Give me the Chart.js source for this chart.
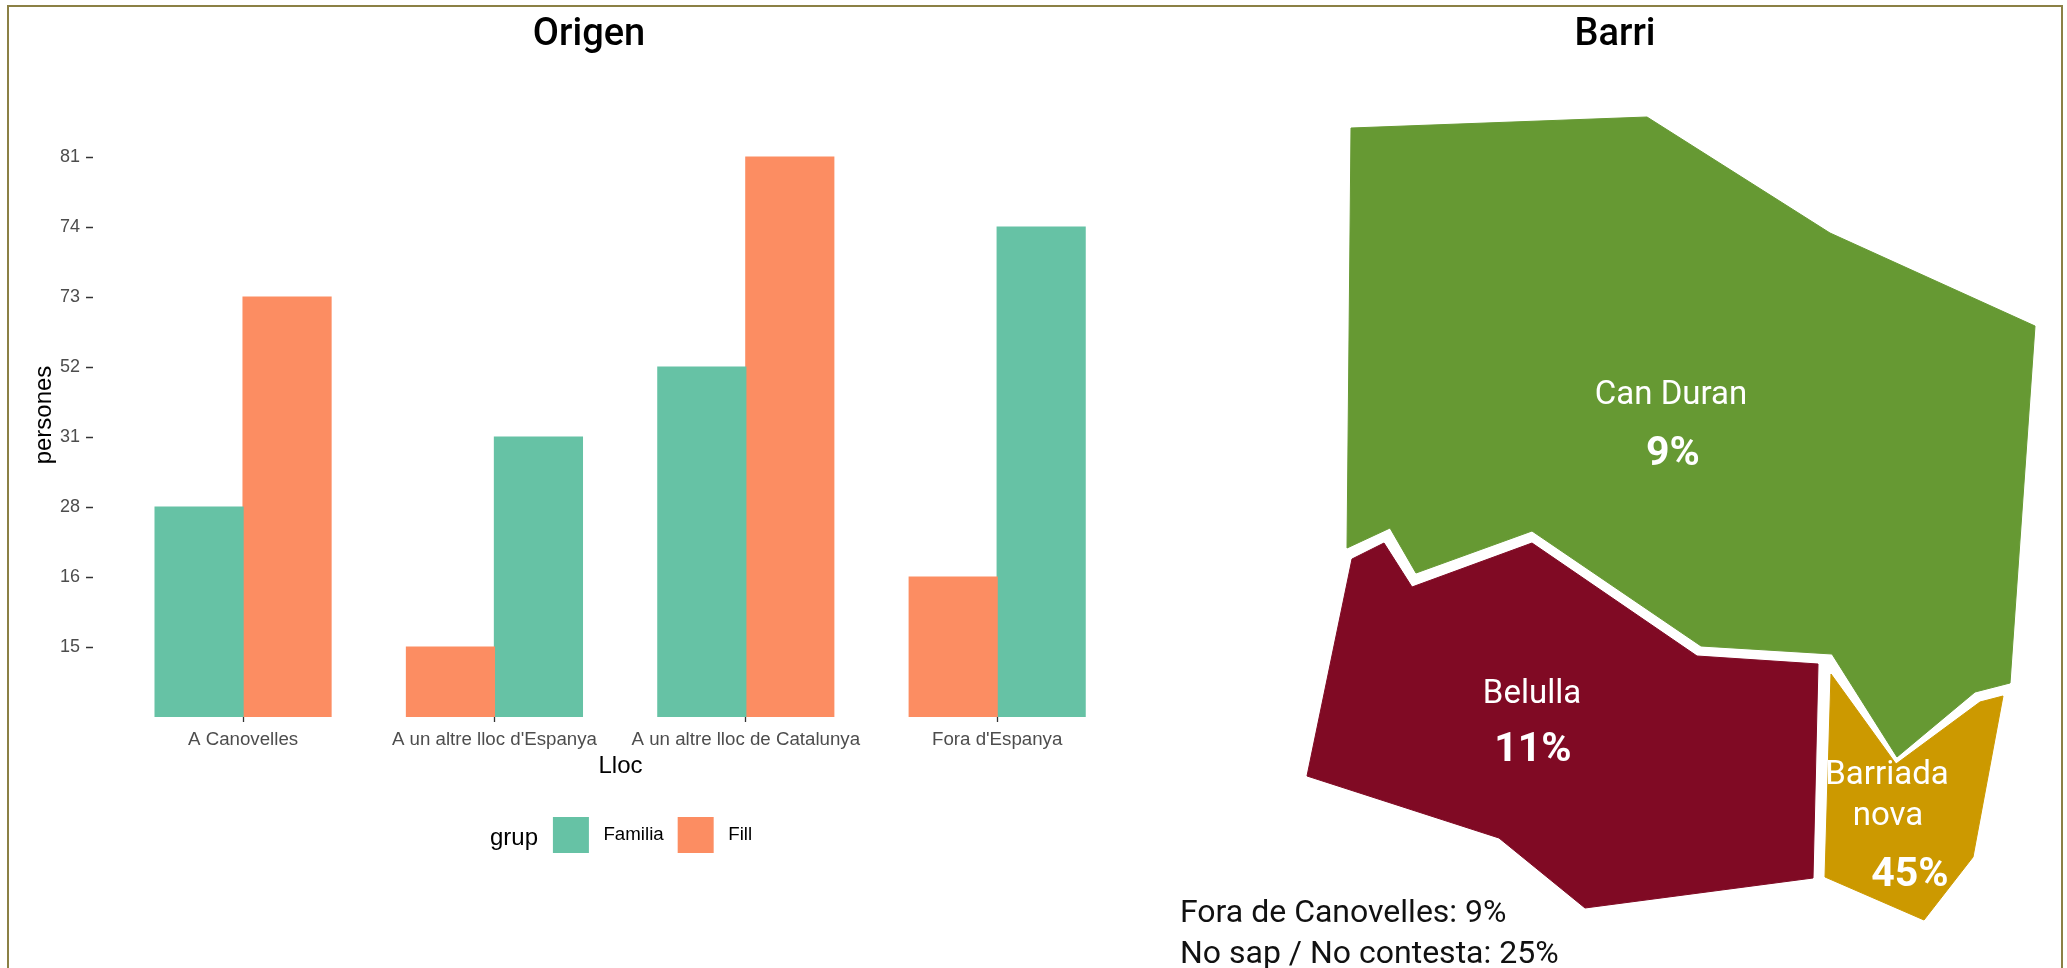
<!DOCTYPE html>
<html>
<head>
<meta charset="utf-8">
<script src="https://cdn.jsdelivr.net/npm/chart.js@4"></script>
<style>
html,body{margin:0;padding:0;background:#fff;width:2067px;height:968px;overflow:hidden}
#frame{position:absolute;left:7px;top:5px;width:2056px;height:980px;border:2px solid #8b8045;box-sizing:border-box}
#bars{position:absolute;left:0;top:0}
#map{position:absolute;left:1163px;top:0}
</style>
</head>
<body>
<div id="frame"></div>
<canvas id="bars" width="1148" height="863"></canvas>
<canvas id="map" width="904" height="968"></canvas>
<script>
// ---- bar panel data ----
const categories = ["A Canovelles", "A un altre lloc d'Espanya", "A un altre lloc de Catalunya", "Fora d'Espanya"];
const familia = [28, 31, 52, 74];
const fill = [73, 15, 81, 16];
const yTickLabels = [15, 16, 28, 31, 52, 73, 74, 81]; // the source axis is ordinal: equally spaced
const seriesNames = ["Familia", "Fill"];
const seriesColors = ["#66c2a5", "#fc8d62"];

// ---- map panel data (map units) ----
const canDuran = [[1351,128],[1647,117],[1830,233],[2035,326],[2010,683],[1975,692],[1897,757],[1832,654],[1701,646],[1532,531],[1416,573],[1390,528],[1347,548]];
const belulla = [[1352,559],[1384,543],[1412,587],[1532,543],[1697,656],[1818,664],[1813,878],[1585,908],[1499,838],[1307,776]];
const barriada = [[1831,674],[1896,764],[1980,702],[2003,696],[1973,857],[1924,920],[1825,877]];
const mapColors = ["#669933", "#800a24", "#cc9900"];
const mapNames = ["Can Duran", "Belulla", "Barriada nova"];
const mapLabelTexts = ["Can Duran", "9%", "Belulla", "11%", "Barriada", "nova", "45%"];
const mapLabelX = [1671, 1673, 1532, 1533, 1887, 1888, 1910];
const mapLabelY = [404, 465, 703, 761, 784, 825, 886];
const mapLabelBold = [false, true, false, true, false, false, true];
const noteTexts = ["Fora de Canovelles: 9%", "No sap / No contesta: 25%"];
const noteX = [1180, 1180];
const noteY = [922, 963];

const rank = v => yTickLabels.indexOf(v) + 1;
const titleFont = {family: "Roboto", size: 38, weight: "500", lineHeight: "44px"};
const axisFamily = "'Liberation Sans', Arial, sans-serif";

// The reference orders each pair by value: smaller bar on the left.
const pick = cmp => categories.map((c, i) => {
  const useFam = cmp(familia[i], fill[i]);
  return {v: useFam ? familia[i] : fill[i], c: seriesColors[useFam ? 0 : 1]};
});
const left = pick((a, b) => a < b), right = pick((a, b) => a > b);
const toDataset = (arr, label) => ({
  label,
  data: arr.map((o, i) => ({x: i + 1, y: rank(o.v)})),
  backgroundColor: arr.map(o => o.c),
  borderWidth: 0,
  inflateAmount: 0.6,
  categoryPercentage: 0.7,
  barPercentage: 1
});

const legendPlugin = {
  id: "legendPlace",
  afterLayout(chart) { chart.legend.left += 63.5; chart.legend.right += 63.5; },
  afterDraw(chart) {
    const c = chart.ctx;
    c.save();
    c.font = "24px " + axisFamily;
    c.fillStyle = "#000";
    c.textAlign = "center";
    c.textBaseline = "middle";
    c.fillText("grup", 514, 838);
    c.restore();
  }
};

new Chart(document.getElementById("bars"), {
  type: "bar",
  data: {datasets: [toDataset(left, "left"), toDataset(right, "right")]},
  plugins: [legendPlugin],
  options: {
    responsive: false, animation: false, devicePixelRatio: 1,
    layout: {padding: {left: 30, right: 0, top: 0, bottom: 0}},
    scales: {
      x: {
        type: "linear", min: 0.403, max: 4.6, offset: false,
        afterBuildTicks: s => { s.ticks = categories.map((c, i) => ({value: i + 1})); },
        afterFit: s => { s.height = 86; },
        grid: {offset: false, drawOnChartArea: false, drawTicks: true, tickLength: 5, tickColor: "#333", tickWidth: 1.3},
        border: {display: false},
        ticks: {
          autoSkip: false, maxRotation: 0, padding: 7, color: "#4d4d4d",
          font: {family: axisFamily, size: 18.7},
          callback: v => categories[v - 1]
        },
        title: {display: true, text: "Lloc", color: "#000", font: {family: axisFamily, size: 24}, padding: {top: 0, bottom: 22}}
      },
      y: {
        type: "linear", min: 0, max: 8.63,
        afterBuildTicks: s => { s.ticks = yTickLabels.map((v, i) => ({value: i + 1})); },
        afterFit: s => { s.width = 63; },
        grid: {drawOnChartArea: false, drawTicks: true, tickLength: 7, tickColor: "#333", tickWidth: 1.5},
        border: {display: false},
        ticks: {
          autoSkip: false, padding: 6, color: "#4d4d4d",
          font: {family: axisFamily, size: 18},
          callback: v => yTickLabels[v - 1]
        },
        title: {display: true, text: "persones", color: "#000", font: {family: axisFamily, size: 24}, padding: 0}
      }
    },
    plugins: {
      tooltip: {enabled: false},
      title: {display: true, text: "Origen", color: "#000", font: titleFont, padding: {top: 13, bottom: 56}},
      legend: {
        display: true, position: "bottom",
        labels: {
          boxWidth: 36, boxHeight: 36, padding: 14, color: "#000",
          font: {family: axisFamily, size: 18.7},
          generateLabels: () => seriesNames.map((n, i) => ({
            text: " " + n, fillStyle: seriesColors[i], strokeStyle: seriesColors[i], lineWidth: 0, hidden: false, datasetIndex: i
          }))
        }
      }
    }
  }
});

// ---- map ----
const polygon = (pts, i) => ({
  label: mapNames[i],
  data: pts.concat([pts[0]]).map(p => ({x: p[0], y: p[1]})),
  showLine: true, fill: "shape", tension: 0,
  backgroundColor: mapColors[i], borderColor: mapColors[i], borderWidth: 1,
  pointRadius: 0
});

const labelPlugin = {
  id: "mapLabels",
  afterDatasetsDraw(chart) {
    const c = chart.ctx, sx = chart.scales.x, sy = chart.scales.y;
    c.save();
    c.textBaseline = "alphabetic";
    c.textAlign = "center";
    c.fillStyle = "#fff";
    mapLabelTexts.forEach((t, i) => {
      c.font = (mapLabelBold[i] ? "700 41px " : "400 33px ") + "Roboto";
      c.fillText(t, sx.getPixelForValue(mapLabelX[i]), sy.getPixelForValue(mapLabelY[i]));
    });
    c.textAlign = "left";
    c.fillStyle = "#111";
    c.font = "400 32px Roboto";
    noteTexts.forEach((t, i) => c.fillText(t, sx.getPixelForValue(noteX[i]), sy.getPixelForValue(noteY[i])));
    c.restore();
  }
};

new Chart(document.getElementById("map"), {
  type: "scatter",
  data: {datasets: [polygon(canDuran, 0), polygon(belulla, 1), polygon(barriada, 2)]},
  plugins: [labelPlugin],
  options: {
    responsive: false, animation: false, devicePixelRatio: 1,
    layout: {padding: 0},
    scales: {
      x: {type: "linear", min: 1163, max: 2067, display: false},
      y: {type: "linear", min: 60, max: 968, reverse: true, display: false}
    },
    plugins: {
      tooltip: {enabled: false},
      legend: {display: false},
      title: {display: true, text: "Barri", color: "#000", font: titleFont, padding: {top: 13, bottom: 3}}
    }
  }
});
</script>
</body>
</html>
